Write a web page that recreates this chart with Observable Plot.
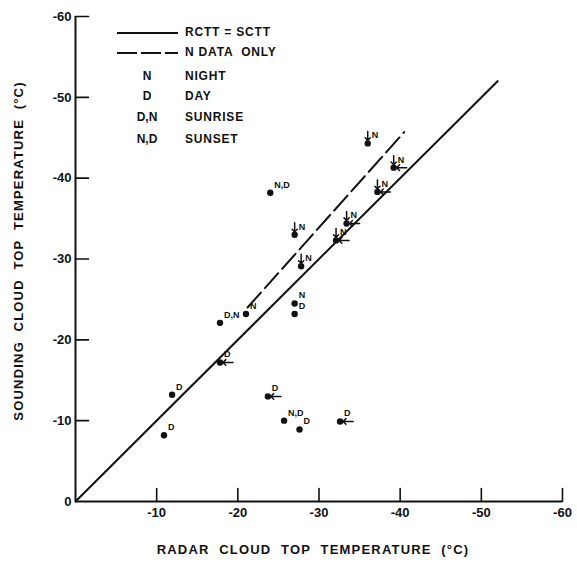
<!DOCTYPE html>
<html>
<head>
<meta charset="utf-8">
<script src="https://cdn.jsdelivr.net/npm/d3@7"></script>
<script src="https://cdn.jsdelivr.net/npm/@observablehq/plot@0.6"></script>
<style>
  html, body { margin: 0; padding: 0; background: #fff; }
  svg { display: block; }
</style>
</head>
<body>
<div id="chart"></div>
<script>
// Radar cloud top temperature (°C) vs sounding cloud top temperature (°C)
const radarTemp    = [-10.9, -11.9, -17.8, -17.8, -21.0, -24.0, -23.7, -25.7, -27.6, -32.6, -27.0, -27.0, -27.8, -27.0, -32.1, -33.4, -37.2, -39.2, -36.0];
const soundingTemp = [ -8.2, -13.2, -17.2, -22.1, -23.2, -38.2, -13.0, -10.0,  -8.9,  -9.9, -24.5, -23.2, -29.1, -33.0, -32.3, -34.4, -38.3, -41.3, -44.3];
const periodLabel  = ["D", "D", "D", "D,N", "N", "N,D", "D", "N,D", "D", "D", "N", "D", "N", "N", "N", "N", "N", "N", "N"];
// markers drawn next to some points (horizontal = radar arrow, vertical = sounding arrow)
const hasHorizArrow = [false, false, true, false, false, false, true, false, false, true, false, false, false, false, true, true, true, true, false];
const hasVertArrow  = [false, false, false, false, false, false, false, false, false, false, false, false, true, true, true, true, true, true, true];

// reference lines
const rcttLineX = [0, -52];
const rcttLineY = [0, -52];
const nLineX = [-21.2, -40.5];
const nLineY = [-24.0, -45.7];

const xTicks = [-10, -20, -30, -40, -50, -60];
const yTicks = [0, -10, -20, -30, -40, -50, -60];

// legend
const legendLines = ["RCTT = SCTT", "N DATA  ONLY"];
const legendCodes = ["N", "D", "D,N", "N,D"];
const legendNames = ["NIGHT", "DAY", "SUNRISE", "SUNSET"];

const points = radarTemp.map((x, i) => ({
  x, y: soundingTemp[i], label: periodLabel[i], h: hasHorizArrow[i], v: hasVertArrow[i]
}));
const rcttLine = rcttLineX.map((x, i) => ({x, y: rcttLineY[i]}));
const nLine = nLineX.map((x, i) => ({x, y: nLineY[i]}));

const fmt = d => String(d);
const FONT = "Liberation Sans, Arial, sans-serif";
const tickShape = {draw(context, l) { context.moveTo(0, 0); context.lineTo(0, -l); }};

const plot = Plot.plot({
  width: 577,
  height: 568,
  marginLeft: 75,
  marginRight: 15,
  marginTop: 16,
  marginBottom: 67,
  style: {fontFamily: FONT, fontSize: "13px", fontWeight: "bold", background: "#fff", color: "#111"},
  x: {domain: [0, -60], label: null},
  y: {domain: [0, -60], label: null},
  marks: [
    Plot.ruleX([0], {stroke: "#111", strokeWidth: 2}),
    Plot.ruleY([0], {stroke: "#111", strokeWidth: 2}),
    Plot.axisX({ticks: xTicks, tickSize: 0, tickPadding: 6, tickFormat: fmt, fill: "#111"}),
    Plot.axisY({ticks: yTicks, tickSize: 0, tickPadding: 4, tickFormat: fmt, fill: "#111"}),
    Plot.vector(xTicks, {x: d => d, y: 0, length: 13, rotate: 0, anchor: "start", shape: tickShape, stroke: "#111", strokeWidth: 1.6}),
    Plot.vector(yTicks.filter(d => d !== 0), {x: 0, y: d => d, length: 13, rotate: 90, anchor: "start", shape: tickShape, stroke: "#111", strokeWidth: 1.6}),
    Plot.line(rcttLine, {x: "x", y: "y", stroke: "#111", strokeWidth: 2}),
    Plot.line(nLine, {x: "x", y: "y", stroke: "#111", strokeWidth: 2, strokeDasharray: "20,6"}),
    Plot.vector(points.filter(d => d.h), {x: "x", y: "y", length: 10, rotate: -90, anchor: "end", dx: 3, r: 5, stroke: "#111", strokeWidth: 1.5}),
    Plot.vector(points.filter(d => d.v), {x: "x", y: "y", length: 9, rotate: 180, anchor: "end", dy: -3, r: 5, stroke: "#111", strokeWidth: 1.5}),
    Plot.dot(points, {x: "x", y: "y", r: 3.2, fill: "#111", stroke: "none"}),
    Plot.text(points, {x: "x", y: "y", text: "label", dx: 4, dy: -8, textAnchor: "start", fontSize: 9, fill: "#111"})
  ]
});

const svg = d3.select(plot);
// axis titles
svg.append("text")
  .attr("x", 313).attr("y", 551)
  .attr("text-anchor", "middle")
  .attr("dominant-baseline", "middle")
  .style("font", `bold 13px ${FONT}`)
  .style("letter-spacing", "1.2px")
  .attr("fill", "#111")
  .text("RADAR  CLOUD  TOP  TEMPERATURE  (°C)");
svg.append("text")
  .attr("transform", "translate(20,251) rotate(-90)")
  .attr("text-anchor", "middle")
  .attr("dominant-baseline", "middle")
  .style("font", `bold 13px ${FONT}`)
  .style("letter-spacing", "1.2px")
  .attr("fill", "#111")
  .text("SOUNDING  CLOUD  TOP  TEMPERATURE  (°C)");

// legend
const lg = svg.append("g").style("font", `bold 12px ${FONT}`).attr("fill", "#111").attr("text-anchor", "start");
const lineRows = [33, 53];
const codeRows = [77, 97, 118, 140];
lineRows.forEach((yy, i) => {
  lg.append("line").attr("x1", 117).attr("x2", 178).attr("y1", yy).attr("y2", yy)
    .attr("stroke", "#111").attr("stroke-width", 2)
    .attr("stroke-dasharray", i === 1 ? "20,4" : null);
  lg.append("text").attr("x", 185).attr("y", yy).attr("text-anchor", "start").attr("dominant-baseline", "middle")
    .style("letter-spacing", "0.8px").text(legendLines[i]);
});
codeRows.forEach((yy, i) => {
  lg.append("text").attr("x", 147).attr("y", yy).attr("text-anchor", "middle")
    .attr("dominant-baseline", "middle").text(legendCodes[i]);
  lg.append("text").attr("x", 185).attr("y", yy).attr("text-anchor", "start").attr("dominant-baseline", "middle")
    .style("letter-spacing", "0.8px").text(legendNames[i]);
});

document.getElementById("chart").append(plot);
</script>
</body>
</html>
